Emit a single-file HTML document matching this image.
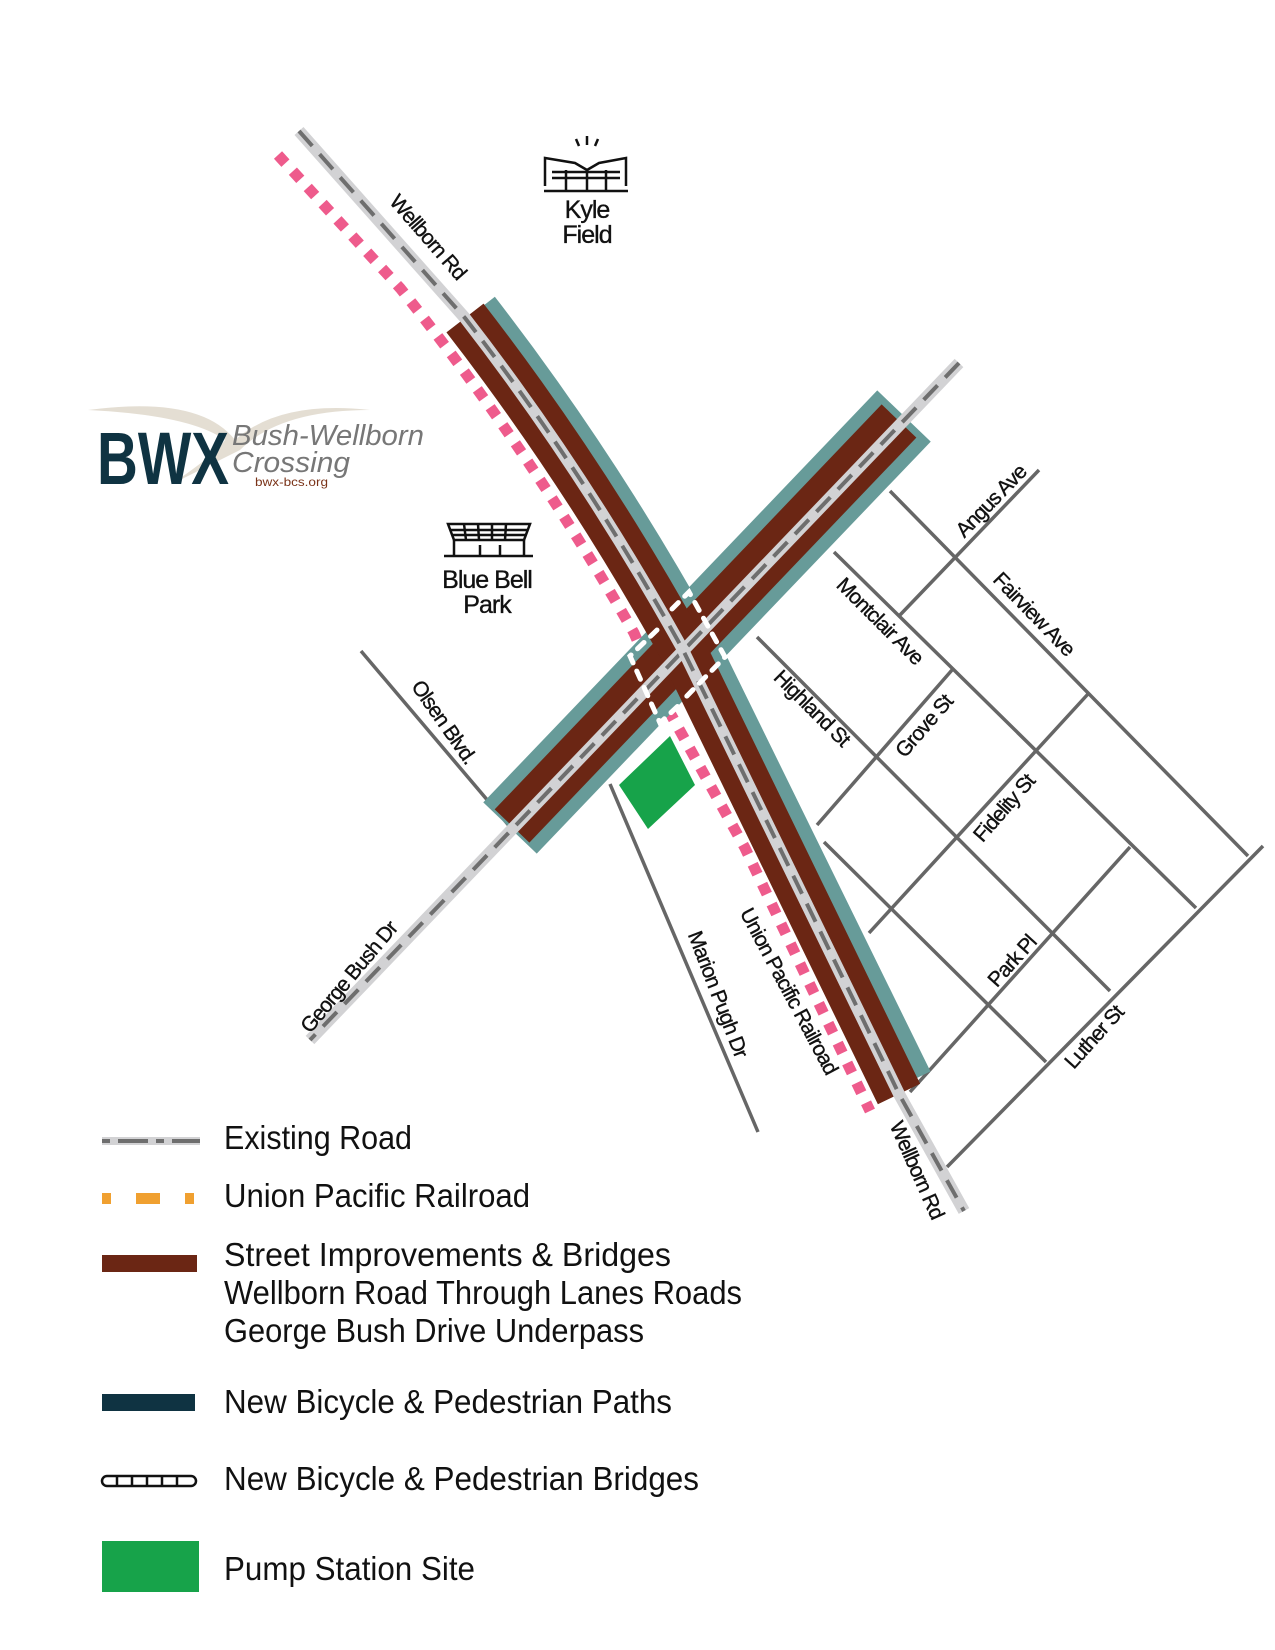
<!DOCTYPE html>
<html><head><meta charset="utf-8"><style>
html,body{margin:0;padding:0;background:#fff}
svg{display:block}
.lab{font-family:"Liberation Sans",sans-serif;font-size:21px;fill:#111;letter-spacing:-1px;stroke:#111;stroke-width:0.35}
.leg{font-family:"Liberation Sans",sans-serif;font-size:33px;fill:#111}
</style></head><body>
<svg width="1275" height="1650" viewBox="0 0 1275 1650" xmlns="http://www.w3.org/2000/svg">
<rect width="1275" height="1650" fill="#fff"/>
<!-- streets -->
<g stroke="#666" stroke-width="3.5" fill="none">
<line x1="361" y1="651" x2="511" y2="828"/>
<line x1="610" y1="784" x2="758" y2="1132"/>
<line x1="890" y1="491" x2="1248" y2="856"/>
<line x1="834" y1="552" x2="1196" y2="908"/>
<line x1="757" y1="637" x2="1110" y2="991"/>
<line x1="824" y1="842" x2="1046" y2="1062"/>
<line x1="1039" y1="470" x2="900" y2="615"/>
<line x1="952" y1="670" x2="817" y2="825"/>
<line x1="1088" y1="694" x2="869" y2="933"/>
<line x1="1130" y1="847" x2="910" y2="1092"/>
<line x1="1263" y1="846" x2="947" y2="1167"/>
</g>
<!-- railroad -->
<path d="M278,155 L400,288 Q530,450 634,633 L664,702 L745,848 L870,1111" fill="none" stroke="#ee5b8c" stroke-width="11" stroke-dasharray="11 11"/>
<!-- George Bush teal -->
<line x1="904" y1="416" x2="510" y2="828" stroke="#679b99" stroke-width="74"/>
<!-- Wellborn teal (right side only) -->
<path d="M483,306 Q601,458 700,636 Q770,778 917,1078" fill="none" stroke="#679b99" stroke-width="30"/>
<line x1="899" y1="421" x2="512" y2="826" stroke="#6b2614" stroke-width="48"/>
<path d="M465,318 Q583,470 682,648 Q752,790 899,1094" fill="none" stroke="#6b2614" stroke-width="47"/>
<!-- pump -->
<polygon points="619,785 670,736 695,785 648,829" fill="#17a34a"/>
<!-- existing roads -->
<g fill="none" stroke-linecap="butt">
<line x1="959" y1="363" x2="310" y2="1040" stroke="#d2d2d4" stroke-width="12"/>
<line x1="959" y1="363" x2="310" y2="1040" stroke="#6e6e6e" stroke-width="4" stroke-dasharray="20 11"/>
<path d="M299,131 L465,318 Q583,470 682,648 Q752,790 899,1094 L964,1211" stroke="#d2d2d4" stroke-width="12"/>
<path d="M299,131 L465,318 Q583,470 682,648 Q752,790 899,1094 L964,1211" stroke="#6e6e6e" stroke-width="4" stroke-dasharray="20 11"/>
</g>
<!-- bridges -->
<g fill="none" stroke="#fff" stroke-width="5" stroke-linecap="round" stroke-dasharray="9 9">
<path d="M672,609 L689,592 L725,657 L683,700"/>
<path d="M657,630 L630,656 L660,723 L678,706"/>
</g>
<!-- labels -->
<text class="lab" transform="translate(428,237) rotate(49)" text-anchor="middle" dy="7">Wellborn Rd</text>
<text class="lab" transform="translate(444,722) rotate(55)" text-anchor="middle" dy="7">Olsen Blvd.</text>
<text class="lab" transform="translate(349,977) rotate(-50)" text-anchor="middle" dy="7">George Bush Dr</text>
<text class="lab" transform="translate(718,994) rotate(69)" text-anchor="middle" dy="7">Marion Pugh Dr</text>
<text class="lab" transform="translate(789,991) rotate(62)" text-anchor="middle" dy="7">Union Pacific Railroad</text>
<text class="lab" transform="translate(917,1170) rotate(66)" text-anchor="middle" dy="7">Wellborn Rd</text>
<text class="lab" transform="translate(991,501) rotate(-46)" text-anchor="middle" dy="7">Angus Ave</text>
<text class="lab" transform="translate(1034,614) rotate(46)" text-anchor="middle" dy="7">Fairview Ave</text>
<text class="lab" transform="translate(880,621) rotate(45)" text-anchor="middle" dy="7">Montclair Ave</text>
<text class="lab" transform="translate(812,708) rotate(45)" text-anchor="middle" dy="7">Highland St</text>
<text class="lab" transform="translate(924,726) rotate(-49)" text-anchor="middle" dy="7">Grove St</text>
<text class="lab" transform="translate(1004,808) rotate(-49)" text-anchor="middle" dy="7">Fidelity St</text>
<text class="lab" transform="translate(1012,961) rotate(-48)" text-anchor="middle" dy="7">Park Pl</text>
<text class="lab" transform="translate(1094,1037) rotate(-48)" text-anchor="middle" dy="7">Luther St</text>
<!-- Kyle Field icon -->
<g stroke="#111" stroke-width="2.5" fill="none">
<line x1="576" y1="139" x2="579" y2="146"/><line x1="587" y1="136" x2="587" y2="145"/><line x1="598" y1="139" x2="595" y2="146"/>
<path d="M545,186 L545,158 L575,163 L587,170 L599,163 L626,158 L626,186"/>
<line x1="544" y1="191" x2="628" y2="191"/>
<line x1="552" y1="172" x2="620" y2="172"/><line x1="552" y1="178" x2="620" y2="178"/>
<line x1="566" y1="170" x2="566" y2="190"/><line x1="587" y1="170" x2="587" y2="190"/><line x1="606" y1="170" x2="606" y2="190"/>
</g>
<text class="lab" x="587" y="218" text-anchor="middle" style="font-size:25px">Kyle</text>
<text class="lab" x="587" y="243" text-anchor="middle" style="font-size:25px">Field</text>
<!-- Blue Bell icon -->
<g stroke="#111" stroke-width="2.5" fill="none">
<path d="M448,524 L530,524 L524,540 L454,540 Z"/>
<line x1="451" y1="530" x2="527" y2="530"/><line x1="452" y1="535" x2="526" y2="535"/>
<line x1="464" y1="524" x2="466" y2="540"/><line x1="478" y1="524" x2="479" y2="540"/><line x1="492" y1="524" x2="492" y2="540"/><line x1="506" y1="524" x2="505" y2="540"/>
<line x1="454" y1="540" x2="454" y2="555"/><line x1="524" y1="540" x2="524" y2="555"/><line x1="480" y1="545" x2="480" y2="555"/><line x1="500" y1="545" x2="500" y2="555"/>
<line x1="444" y1="556" x2="533" y2="556"/>
</g>
<text class="lab" x="487" y="588" text-anchor="middle" style="font-size:25px">Blue Bell</text>
<text class="lab" x="487" y="613" text-anchor="middle" style="font-size:25px">Park</text>
<!-- logo -->
<path d="M88,410 Q200,395 235,440 Q280,400 370,410 Q280,410 240,450 Q200,470 170,485 Q215,455 225,440 Q190,415 88,410Z" fill="#d8d0c0" opacity="0.7"/>
<text x="97" y="484" font-family="Liberation Sans,sans-serif" font-weight="bold" font-size="74" fill="#0f3342" textLength="132" lengthAdjust="spacingAndGlyphs">BWX</text>
<text x="232" y="445" font-family="Liberation Sans,sans-serif" font-style="italic" font-size="29" fill="#777" textLength="192" lengthAdjust="spacingAndGlyphs">Bush-Wellborn</text>
<text x="232" y="472" font-family="Liberation Sans,sans-serif" font-style="italic" font-size="29" fill="#777" textLength="118" lengthAdjust="spacingAndGlyphs">Crossing</text>
<text x="255" y="486" font-family="Liberation Sans,sans-serif" font-size="12" fill="#7a3318" textLength="73" lengthAdjust="spacingAndGlyphs">bwx-bcs.org</text>
<!-- legend -->
<line x1="102" y1="1141" x2="200" y2="1141" stroke="#d2d2d4" stroke-width="8"/>
<line x1="102" y1="1141" x2="200" y2="1141" stroke="#6e6e6e" stroke-width="4" stroke-dasharray="8 8 30 8"/>
<text class="leg" x="224" y="1149" textLength="188" lengthAdjust="spacingAndGlyphs">Existing Road</text>
<rect x="102" y="1193" width="9" height="11" fill="#f0a030"/><rect x="136" y="1193" width="24" height="11" fill="#f0a030"/><rect x="185" y="1193" width="9" height="11" fill="#f0a030"/>
<text class="leg" x="224" y="1207" textLength="306" lengthAdjust="spacingAndGlyphs">Union Pacific Railroad</text>
<rect x="102" y="1255" width="95" height="17" fill="#6b2614"/>
<text class="leg" x="224" y="1266" textLength="447" lengthAdjust="spacingAndGlyphs">Street Improvements &amp; Bridges</text>
<text class="leg" x="224" y="1304" textLength="518" lengthAdjust="spacingAndGlyphs">Wellborn Road Through Lanes Roads</text>
<text class="leg" x="224" y="1342" textLength="420" lengthAdjust="spacingAndGlyphs">George Bush Drive Underpass</text>
<rect x="102" y="1394" width="93" height="17" fill="#0f3342"/>
<text class="leg" x="224" y="1413" textLength="448" lengthAdjust="spacingAndGlyphs">New Bicycle &amp; Pedestrian Paths</text>
<g fill="#fff" stroke="#111" stroke-width="2.5">
<rect x="102" y="1476" width="94" height="10" rx="5"/>
<line x1="117" y1="1476" x2="117" y2="1486"/><line x1="132" y1="1476" x2="132" y2="1486"/><line x1="147" y1="1476" x2="147" y2="1486"/><line x1="162" y1="1476" x2="162" y2="1486"/><line x1="177" y1="1476" x2="177" y2="1486"/>
</g>
<text class="leg" x="224" y="1490" textLength="475" lengthAdjust="spacingAndGlyphs">New Bicycle &amp; Pedestrian Bridges</text>
<rect x="102" y="1541" width="97" height="51" fill="#17a34a"/>
<text class="leg" x="224" y="1580" textLength="251" lengthAdjust="spacingAndGlyphs">Pump Station Site</text>
</svg>
</body></html>
